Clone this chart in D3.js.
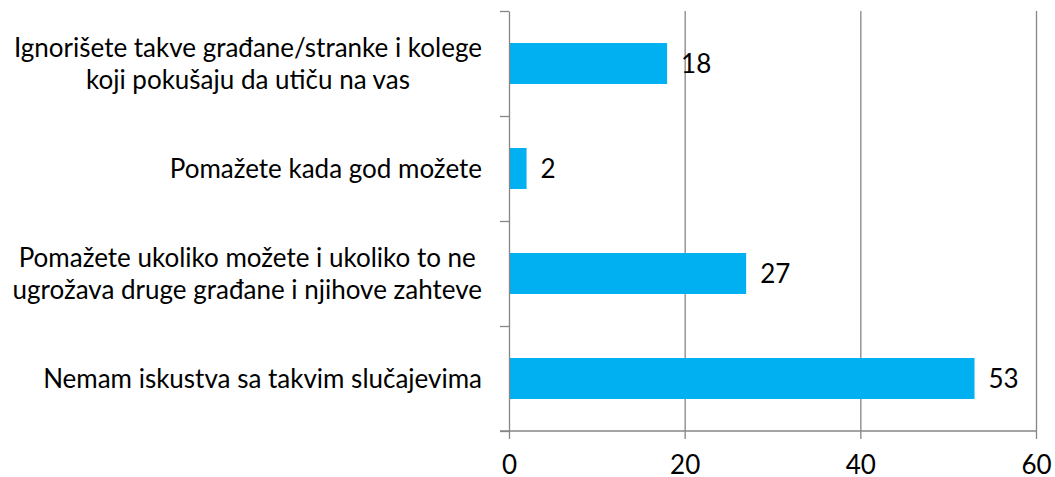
<!DOCTYPE html>
<html>
<head>
<meta charset="utf-8">
<script src="https://cdn.jsdelivr.net/npm/d3@7"></script>
<style>
  body { margin: 0; background: #fff; }
  svg text { font-family: Lato, "Open Sans", sans-serif; fill: #000; }
  .axis path, .axis line, .grid line { stroke: #868686; stroke-width: 1.3; }
  .grid path { display: none; }
</style>
</head>
<body>
<svg id="chart"></svg>
<script>
'use strict'

// categories, top to bottom (each label already split into lines)
const categories = [
  ['Ignorišete takve građane/stranke i kolege', 'koji pokušaju da utiču na vas'],
  ['Pomažete kada god možete'],
  ['Pomažete ukoliko možete i ukoliko to ne', 'ugrožava druge građane i njihove zahteve'],
  ['Nemam iskustva sa takvim slučajevima']
]
const values = [18, 2, 27, 53]
const xTicks = [0, 20, 40, 60]

const width = 1055, height = 477
const margins = {top: 11, right: 19, bottom: 46, left: 509}
const chartWidth = width - margins.left - margins.right
const chartHeight = height - margins.top - margins.bottom
const fontSize = 26

const data = categories.map((c, i) => ({id: i, lines: c, value: values[i]}))

const x = d3.scaleLinear().domain([0, 60]).range([0, chartWidth])
const y = d3.scaleBand()
  .domain(data.map(d => d.id))
  .range([0, chartHeight])
  .paddingInner(0.61)
  .paddingOuter(0.305)
// band boundaries, for the category ticks
const yEdge = d3.scaleLinear().domain([0, categories.length]).range([0, chartHeight])

const svg = d3.select('#chart')
  .attr('width', width)
  .attr('height', height)
  .append('g')
  .attr('transform', 'translate(' + margins.left + ',' + margins.top + ')')

// vertical gridlines
svg.append('g')
  .attr('class', 'grid')
  .call(d3.axisBottom(x).tickValues(xTicks.slice(1)).tickSize(chartHeight).tickFormat(''))

// bars
svg.selectAll('rect.bar')
  .data(data)
  .enter().append('rect')
  .attr('class', 'bar')
  .attr('x', x(0))
  .attr('y', d => y(d.id))
  .attr('width', d => x(d.value) - x(0))
  .attr('height', y.bandwidth())
  .attr('fill', '#00b0f0')

// value labels
svg.selectAll('text.value')
  .data(data)
  .enter().append('text')
  .attr('class', 'value')
  .attr('x', d => x(d.value) + 14)
  .attr('y', d => y(d.id) + y.bandwidth() / 2)
  .attr('dy', '0.35em')
  .style('font-size', fontSize + 'px')
  .text(d => d.value)

// x axis
const xAxis = svg.append('g')
  .attr('class', 'axis')
  .attr('transform', 'translate(0,' + chartHeight + ')')
  .call(d3.axisBottom(x).tickValues(xTicks).tickSize(8).tickSizeOuter(0))
xAxis.select('.domain').attr('d', 'M-9,0H' + chartWidth)
xAxis.selectAll('text')
  .attr('y', 34)
  .attr('dy', '0.35em')
  .style('font-size', fontSize + 'px')
  .attr('fill', '#000')

// y axis with ticks between categories
svg.append('g')
  .attr('class', 'axis')
  .call(d3.axisLeft(yEdge).tickValues(d3.range(categories.length + 1)).tickSize(9).tickSizeOuter(0).tickFormat(''))

// category labels: block right-aligned, lines centred within the block
const lineHeight = 32
const labels = svg.selectAll('text.cat')
  .data(data)
  .enter().append('text')
  .attr('class', 'cat')
  .attr('text-anchor', 'middle')
  .style('font-size', fontSize + 'px')

labels.selectAll('tspan')
  .data(d => d.lines.map((l, i) => ({l: l, i: i, n: d.lines.length})))
  .enter().append('tspan')
  .attr('x', 0)
  .attr('y', t => (t.i - (t.n - 1) / 2) * lineHeight)
  .attr('dy', '0.35em')
  .text(t => t.l)

labels.each(function(d) {
  let maxW = 0
  d3.select(this).selectAll('tspan').each(function() {
    maxW = Math.max(maxW, this.getComputedTextLength())
  })
  d3.select(this).attr('transform', 'translate(' + (-27 - maxW / 2) + ',' + (y(d.id) + y.bandwidth() / 2) + ')')
})
</script>
</body>
</html>
